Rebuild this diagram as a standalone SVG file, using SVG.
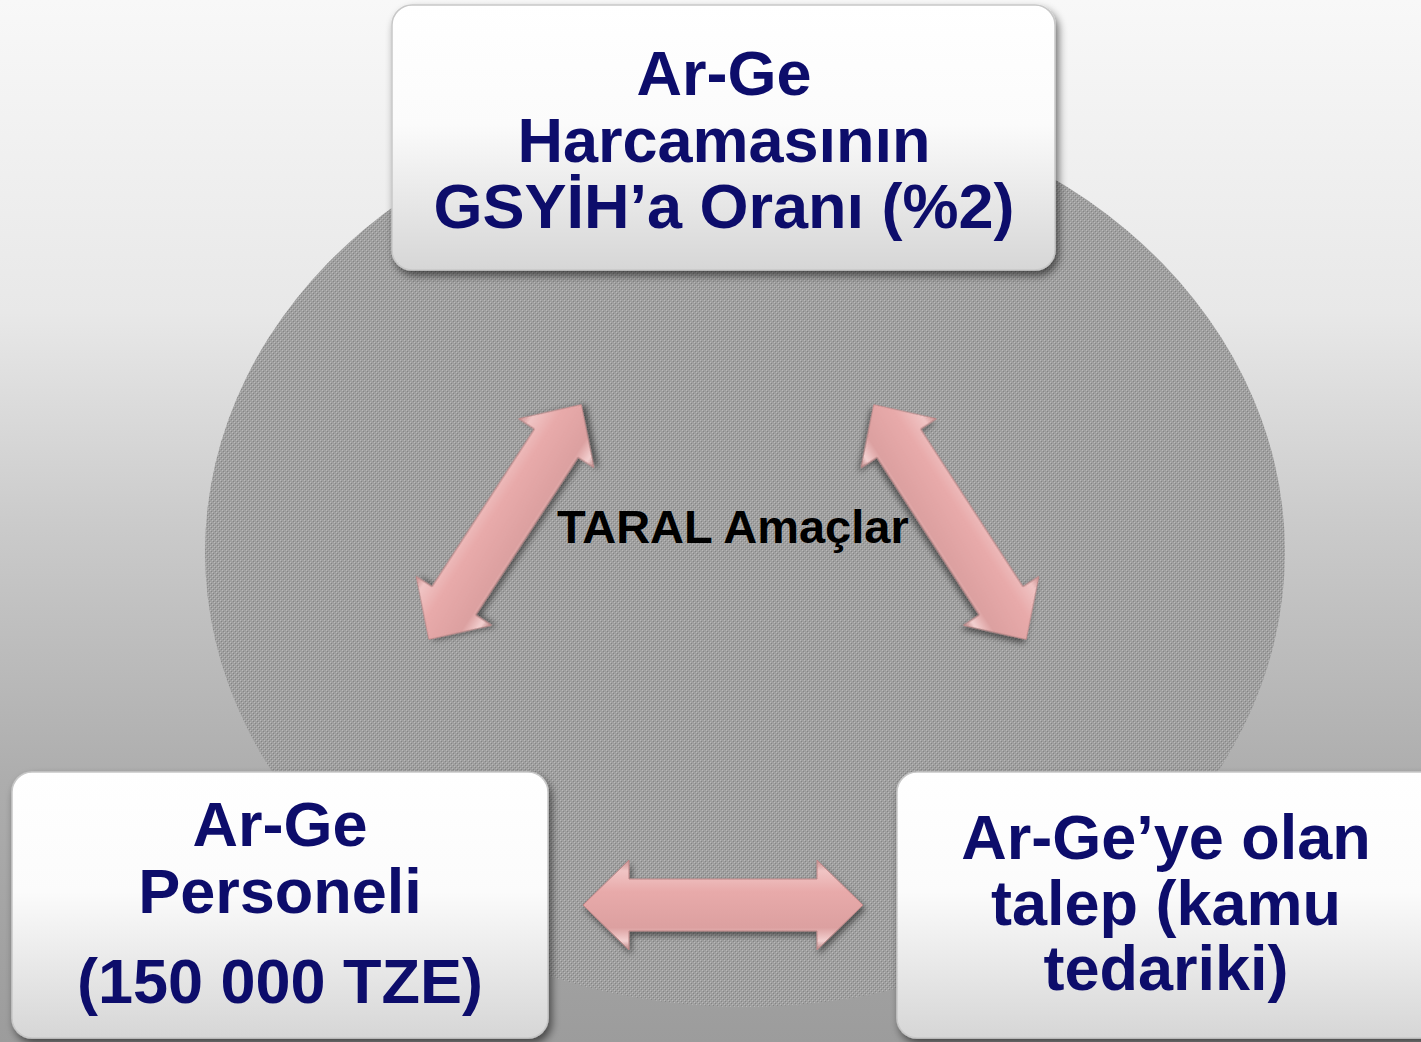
<svg xmlns="http://www.w3.org/2000/svg" width="1421" height="1042" viewBox="0 0 1421 1042">
<defs>
<linearGradient id="bg" x1="0" y1="0" x2="0" y2="1">
<stop offset="0" stop-color="#f8f8f8"/>
<stop offset="0.3" stop-color="#e8e8e8"/>
<stop offset="0.5" stop-color="#cbcbcb"/>
<stop offset="0.75" stop-color="#adadad"/>
<stop offset="1" stop-color="#9c9c9c"/>
</linearGradient>
<pattern id="dots" width="4" height="4" patternUnits="userSpaceOnUse">
<rect width="4" height="4" fill="#a0a0a0"/>
<rect x="0" y="0" width="1" height="1" fill="#b9b9b9"/>
<rect x="2" y="2" width="1" height="1" fill="#b9b9b9"/>
<rect x="1" y="1" width="1" height="1" fill="#858585"/>
<rect x="3" y="3" width="1" height="1" fill="#858585"/>
</pattern>
<linearGradient id="boxg" x1="0" y1="0" x2="0" y2="1">
<stop offset="0" stop-color="#ffffff"/>
<stop offset="0.45" stop-color="#fbfbfb"/>
<stop offset="1" stop-color="#d6d6d6"/>
</linearGradient>
<linearGradient id="arrg" x1="0" y1="0" x2="0" y2="1">
<stop offset="0" stop-color="#c98e8e"/>
<stop offset="0.12" stop-color="#f0c4c4"/>
<stop offset="0.35" stop-color="#e8aaaa"/>
<stop offset="0.75" stop-color="#dca0a0"/>
<stop offset="0.9" stop-color="#f3d0d0"/>
<stop offset="1" stop-color="#b88282"/>
</linearGradient>
<filter id="shadow" x="-10%" y="-10%" width="125%" height="130%">
<feGaussianBlur in="SourceAlpha" stdDeviation="4"/>
<feOffset dx="3" dy="5" result="b"/>
<feComponentTransfer><feFuncA type="linear" slope="0.55"/></feComponentTransfer>
<feMerge><feMergeNode/><feMergeNode in="SourceGraphic"/></feMerge>
</filter>
<filter id="ashadow" x="-20%" y="-40%" width="140%" height="180%">
<feGaussianBlur in="SourceAlpha" stdDeviation="3"/>
<feOffset dx="2" dy="4"/>
<feComponentTransfer><feFuncA type="linear" slope="0.5"/></feComponentTransfer>
<feMerge><feMergeNode/><feMergeNode in="SourceGraphic"/></feMerge>
</filter>
<polygon id="dbl" points="-140,0 -94,-45 -94,-26 94,-26 94,-45 140,0 94,45 94,26 -94,26 -94,45"/>
</defs>
<style>
.box{fill:url(#boxg);stroke:#c8c8c8;stroke-width:1.5;filter:url(#shadow)}
.lbl{font-family:"Liberation Sans",Arial,sans-serif;font-weight:bold;font-size:63px;fill:#0d0d6b;text-anchor:middle}
.ctr{font-family:"Liberation Sans",Arial,sans-serif;font-weight:bold;font-size:47px;fill:#000000}
.arr{fill:url(#arrg);stroke:#b98585;stroke-width:1;filter:url(#ashadow)}
</style>
<rect width="1421" height="1042" fill="url(#bg)"/>
<ellipse cx="745" cy="552" rx="540" ry="455" fill="url(#dots)"/>
<text class="ctr" x="557" y="543">TARAL Amaçlar</text>
<g id="connectors">
<use href="#dbl" class="arr" transform="translate(505,522) rotate(-57)"/>
<use href="#dbl" class="arr" transform="translate(950,522) rotate(57)"/>
<use href="#dbl" class="arr" transform="translate(723,905)"/>
</g>
<g id="node-top">
<rect class="box" x="392" y="5" width="663" height="265" rx="20"/>
<text class="lbl" x="724" y="95">Ar-Ge</text>
<text class="lbl" x="724" y="162">Harcamasının</text>
<text class="lbl" x="724" y="228">GSYİH’a Oranı (%2)</text>
</g>
<g id="node-left">
<rect class="box" x="12" y="772" width="536" height="266" rx="20"/>
<text class="lbl" x="280" y="846">Ar-Ge</text>
<text class="lbl" x="280" y="913">Personeli</text>
<text class="lbl" x="280" y="1003">(150 000 TZE)</text>
</g>
<g id="node-right">
<rect class="box" x="897" y="772" width="560" height="266" rx="20"/>
<text class="lbl" x="1166" y="859">Ar-Ge’ye olan</text>
<text class="lbl" x="1166" y="925">talep (kamu</text>
<text class="lbl" x="1166" y="990">tedariki)</text>
</g>
</svg>
